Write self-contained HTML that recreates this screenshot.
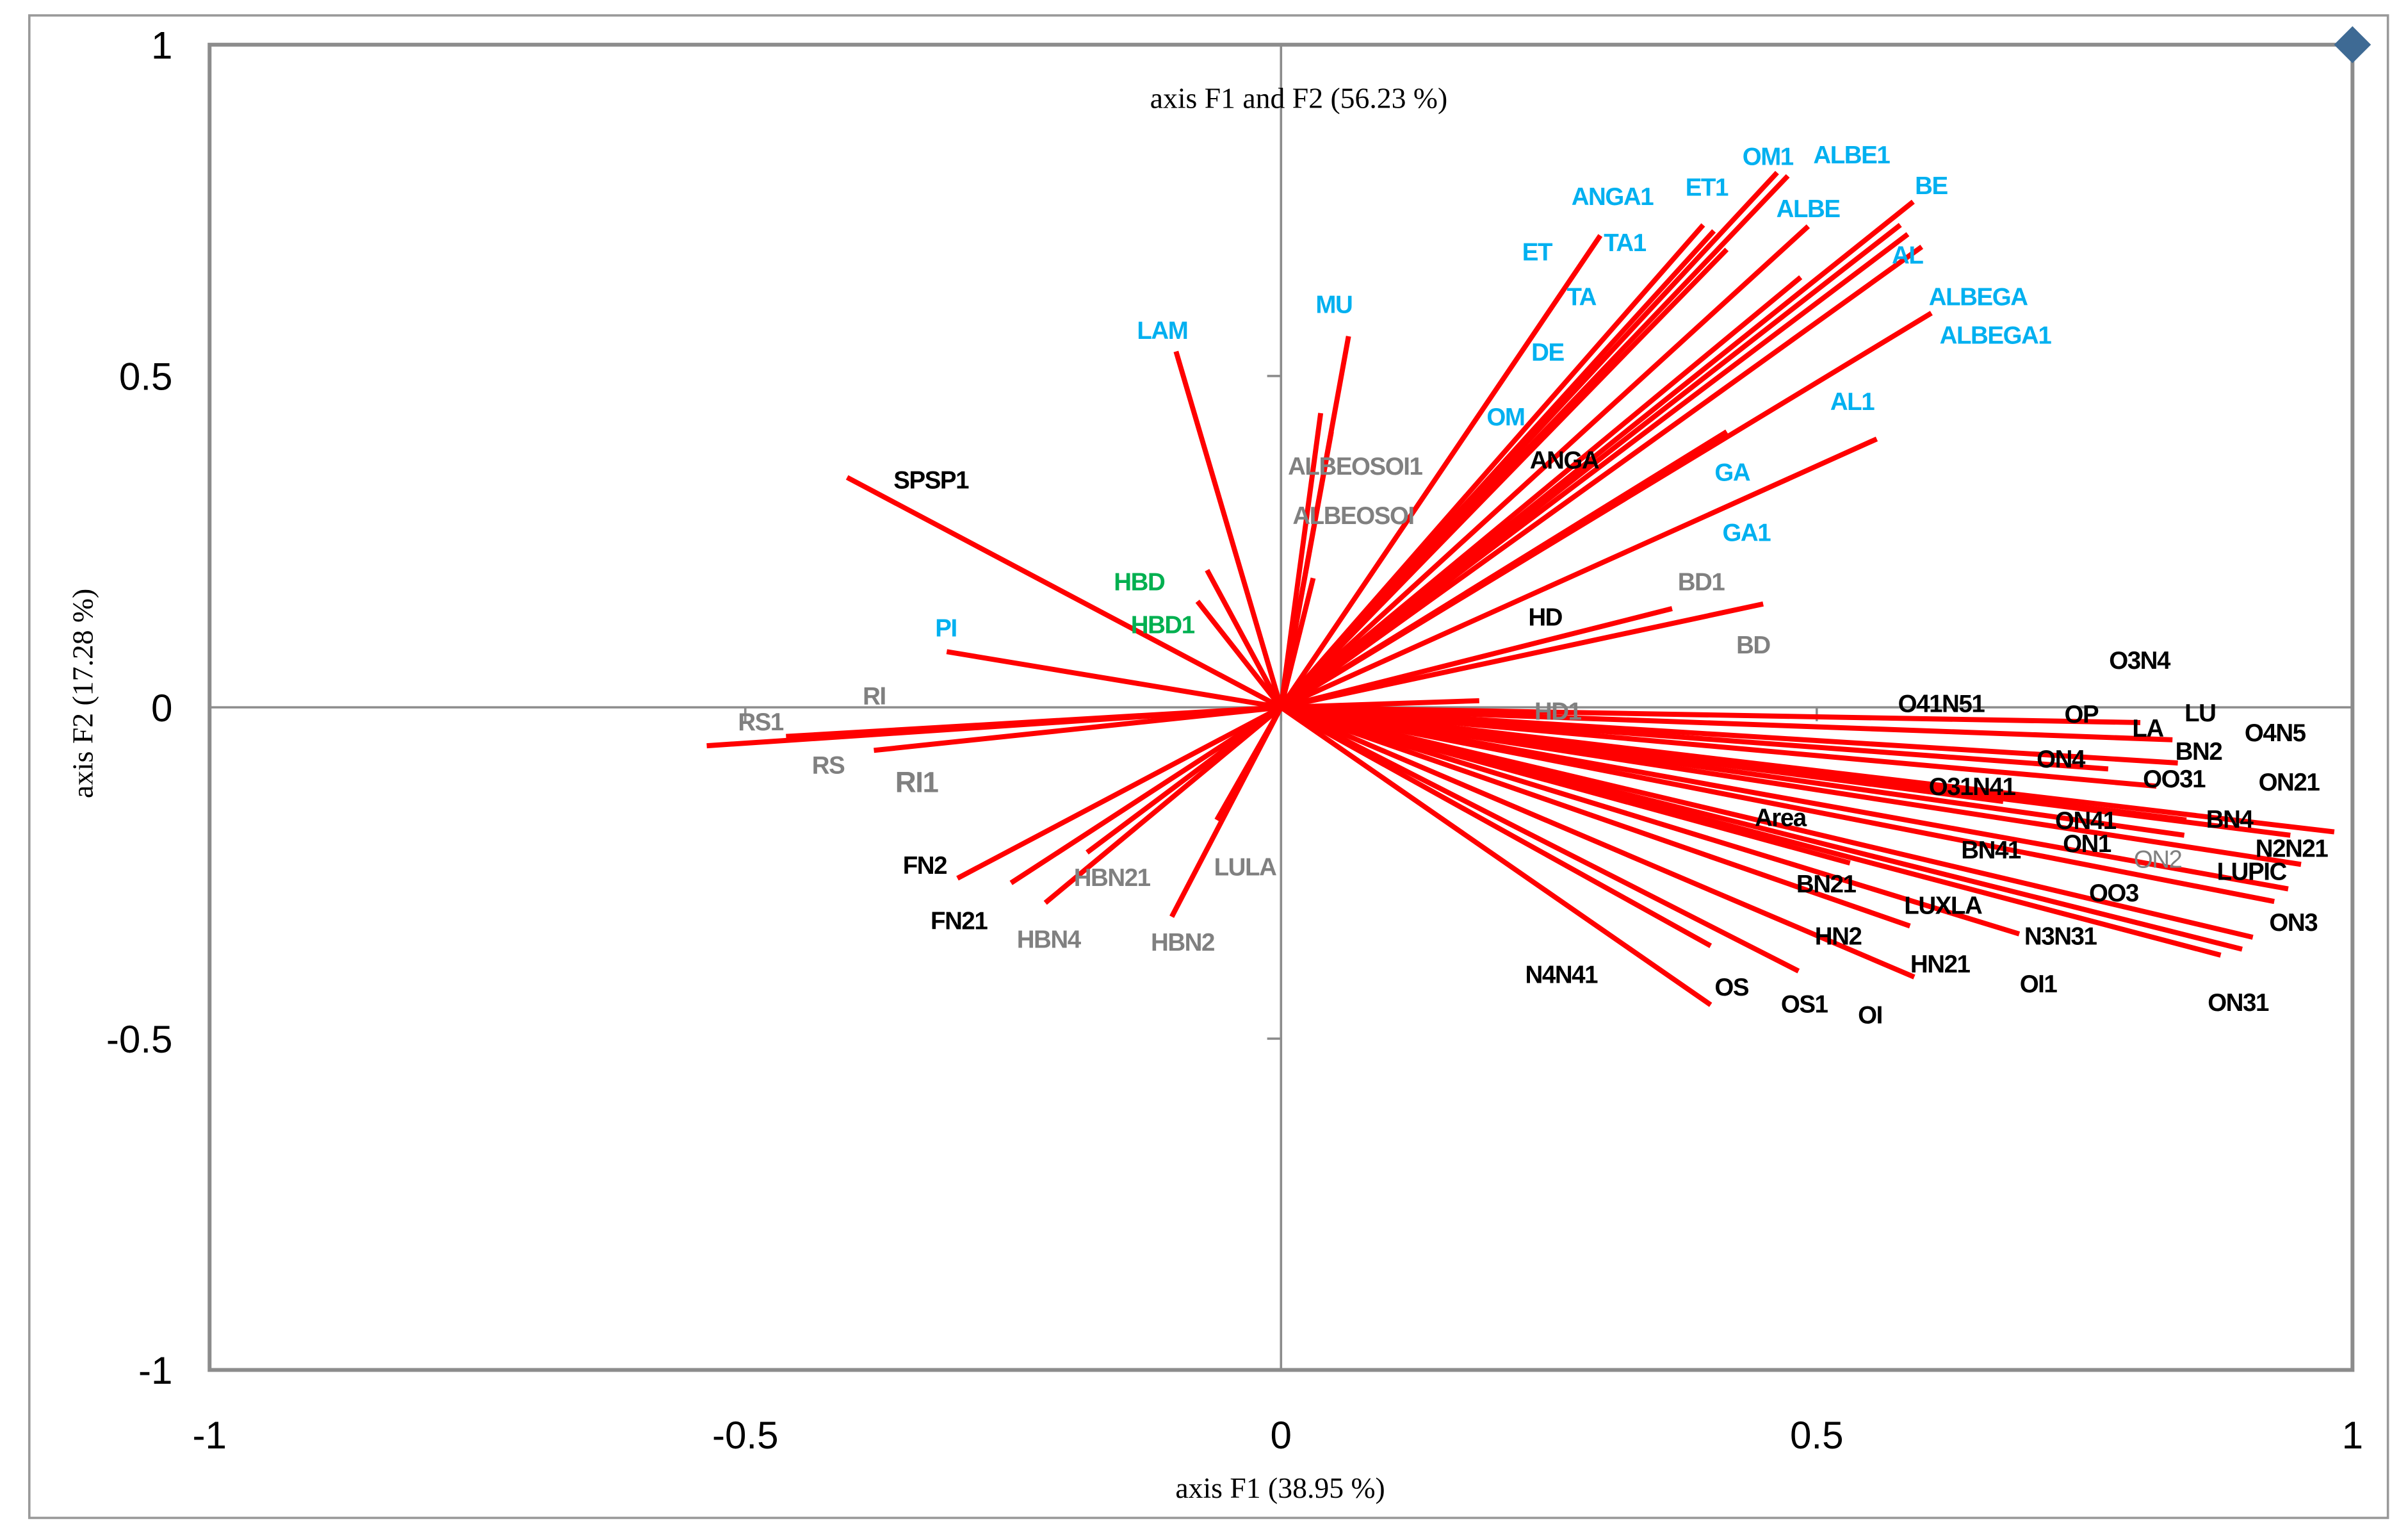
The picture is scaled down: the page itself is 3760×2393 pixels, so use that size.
<!DOCTYPE html>
<html><head><meta charset="utf-8"><style>
html,body{margin:0;padding:0;background:#fff;}
svg{display:block;}
.lb{font-family:"Liberation Sans Narrow","Liberation Sans",sans-serif;font-weight:bold;font-size:16px;letter-spacing:-0.6px;}
.bl{fill:#00B0F0}.bk{fill:#000}.gy{fill:#808080}.gr{fill:#00B050}
.tk{font-family:"Liberation Sans Narrow","Liberation Sans",sans-serif;font-size:25px;fill:#000}
.ser{font-family:"Liberation Serif",serif;font-size:19px;fill:#000}
</style></head><body>
<svg id="chart" width="3760" height="2393" viewBox="0 0 1563 994.8" xmlns="http://www.w3.org/2000/svg">
<rect x="19" y="10" width="1531" height="975" fill="#fff" stroke="#999" stroke-width="1.5"/>
<rect x="136" y="29" width="1391" height="860" fill="none" stroke="#8c8c8c" stroke-width="2.5"/>
<g id="axes"></g>
<g id="vectors"></g>
<path d="M1527,17 L1539,29 L1527,41 L1515,29 Z" fill="#3E6A94"/>
<text class="ser" x="843" y="70" text-anchor="middle">axis F1 and F2 (56.23 %)</text>
<text class="ser" x="831" y="972" text-anchor="middle">axis F1 (38.95 %)</text>
<text class="ser" transform="translate(60,450) rotate(-90)" text-anchor="middle">axis F2 (17.28 %)</text>
<g>
<text class="lb bl" x="1131" y="107">OM1</text><text class="lb bl" x="1177" y="106">ALBE1</text>
<text class="lb bl" x="1020" y="133">ANGA1</text><text class="lb bl" x="1094" y="127">ET1</text>
<text class="lb bl" x="1243" y="126">BE</text><text class="lb bl" x="1153" y="141">ALBE</text>
<text class="lb bl" x="988" y="169">ET</text><text class="lb bl" x="1041" y="163">TA1</text>
<text class="lb bl" x="1228" y="171">AL</text><text class="lb bl" x="1017" y="198">TA</text>
<text class="lb bl" x="1252" y="198">ALBEGA</text><text class="lb bl" x="1259" y="223">ALBEGA1</text>
<text class="lb bl" x="854" y="203">MU</text><text class="lb bl" x="738" y="220">LAM</text>
<text class="lb bl" x="994" y="234">DE</text><text class="lb bl" x="1188" y="266">AL1</text>
<text class="lb bl" x="965" y="276">OM</text><text class="lb bk" x="993" y="304">ANGA</text>
<text class="lb bl" x="1113" y="312">GA</text><text class="lb bl" x="1118" y="351">GA1</text>
<text class="lb gy" x="836" y="308">ALBEOSOI1</text><text class="lb gy" x="839" y="340">ALBEOSOI</text>
<text class="lb bk" x="580" y="317">SPSP1</text>
<text class="lb gr" x="723" y="383">HBD</text><text class="lb gr" x="734" y="411">HBD1</text>
<text class="lb bl" x="607" y="413">PI</text>
<text class="lb gy" x="1089" y="383">BD1</text><text class="lb bk" x="992" y="406">HD</text>
<text class="lb gy" x="1127" y="424">BD</text><text class="lb bk" x="1369" y="434">O3N4</text>
<text class="lb gy" x="560" y="457">RI</text><text class="lb gy" x="479" y="474">RS1</text>
<text class="lb gy" x="996" y="467">HD1</text><text class="lb bk" x="1232" y="462">O41N51</text>
<text class="lb bk" x="1340" y="469">OP</text><text class="lb bk" x="1418" y="468">LU</text>
<text class="lb bk" x="1384" y="478">LA</text><text class="lb bk" x="1457" y="481">O4N5</text>
<text class="lb bk" x="1412" y="493">BN2</text><text class="lb bk" x="1322" y="498">ON4</text>
<text class="lb gy" x="527" y="502">RS</text><text class="lb gy" x="581" y="514" style="font-size:19px">RI1</text>
<text class="lb bk" x="1391" y="511">OO31</text><text class="lb bk" x="1466" y="513">ON21</text>
<text class="lb bk" x="1252" y="516">O31N41</text>
<text class="lb bk" x="1139" y="536">Area</text><text class="lb bk" x="1334" y="538">ON41</text>
<text class="lb bk" x="1432" y="537">BN4</text><text class="lb bk" x="1339" y="553">ON1</text>
<text class="lb bk" x="1464" y="556">N2N21</text><text class="lb bk" x="1273" y="557">BN41</text>
<text class="lb gy" x="1385" y="563" style="font-weight:normal">ON2</text>
<text class="lb bk" x="1439" y="571">LUPIC</text>
<text class="lb bk" x="586" y="567">FN2</text><text class="lb gy" x="788" y="568">LULA</text>
<text class="lb gy" x="697" y="575">HBN21</text><text class="lb bk" x="1166" y="579">BN21</text>
<text class="lb bk" x="1356" y="585">OO3</text><text class="lb bk" x="1236" y="593">LUXLA</text>
<text class="lb bk" x="1473" y="604">ON3</text><text class="lb bk" x="604" y="603">FN21</text>
<text class="lb gy" x="660" y="615">HBN4</text><text class="lb gy" x="747" y="617">HBN2</text>
<text class="lb bk" x="1178" y="613">HN2</text><text class="lb bk" x="1314" y="613">N3N31</text>
<text class="lb bk" x="1240" y="631">HN21</text><text class="lb bk" x="990" y="638">N4N41</text>
<text class="lb bk" x="1311" y="644">OI1</text><text class="lb bk" x="1113" y="646">OS</text>
<text class="lb bk" x="1156" y="657">OS1</text><text class="lb bk" x="1433" y="656">ON31</text>
<text class="lb bk" x="1206" y="664">OI</text>
</g>
</svg>
<script>
const varNames = ["ET","TA1","ANGA1","TA","OM1","ALBE1","ALBE","BE","AL","ALBEGA_a","ALBEGA_b","ALBEGA","DE","GA","GA1","BD1","BD","HD1","MU","ALBEOSOI1","ALBEOSOI1b","ALBEOSOI","LAM","HBD","HBD1","SPSP1","PI","RS1","RS","RI1","FN2","FN21","HBN4","HBN21","HBN2","LULA","OS","N4N41","OS1","OI","HN2","N3N31","ON31","OI1","ON3a","ON3","LUPIC","OO3","N2N21","BN4","ON41","OO31","ON4","BN2","LU","LA","ON21","ON2","BN21"];
const f1 = [0.298,0.394,0.404,0.416,0.463,0.473,0.492,0.590,0.578,0.585,0.598,0.607,0.485,0.416,0.556,0.365,0.450,0.185,0.063,0.037,0.047,0.030,-0.098,-0.069,-0.078,-0.405,-0.312,-0.536,-0.462,-0.380,-0.302,-0.252,-0.220,-0.181,-0.102,-0.060,0.401,0.401,0.483,0.591,0.587,0.689,0.877,0.897,0.907,0.927,0.940,0.952,0.942,0.845,0.843,0.817,0.772,0.837,0.832,0.802,0.983,0.674,0.531];
const f2 = [0.712,0.728,0.719,0.691,0.807,0.802,0.726,0.763,0.728,0.714,0.695,0.595,0.649,0.416,0.405,0.149,0.156,0.010,0.560,0.444,0.416,0.195,0.537,0.207,0.160,0.347,0.084,-0.058,-0.044,-0.065,-0.258,-0.265,-0.295,-0.219,-0.316,-0.170,-0.449,-0.360,-0.398,-0.407,-0.330,-0.342,-0.374,-0.365,-0.347,-0.293,-0.274,-0.237,-0.193,-0.170,-0.193,-0.119,-0.093,-0.084,-0.049,-0.023,-0.188,-0.142,-0.235];
const tickVals = [-1,-0.5,0,0.5,1];
const tickLabels = ["-1","-0.5","0","0.5","1"];
const NS="http://www.w3.org/2000/svg";
const X0=136,X1=1527,Y0=889,Y1=29;
const sx=v=>X0+(v+1)/2*(X1-X0);
const sy=v=>Y0-(v+1)/2*(Y0-Y1);
function mk(t,a,parent){const e=document.createElementNS(NS,t);for(const k in a)e.setAttribute(k,a[k]);parent.appendChild(e);return e;}
const ax=document.getElementById('axes');
let l=mk('line',{x1:X0,x2:X1,y1:sy(0),y2:sy(0),stroke:'#8c8c8c','stroke-width':1.5},ax);


l=mk('line',{x1:sx(0),x2:sx(0),y1:Y1,y2:Y0,stroke:'#8c8c8c','stroke-width':1.5},ax);


tickVals.forEach((v,i)=>{
  let t=mk('line',{x1:sx(0)-9,x2:sx(0),y1:sy(v),y2:sy(v),stroke:'#8c8c8c','stroke-width':1.5},ax);
  
  
  t=mk('line',{x1:sx(v),x2:sx(v),y1:sy(0),y2:sy(0)+9,stroke:'#8c8c8c','stroke-width':1.5},ax);
  
  
  let tx=mk('text',{x:112,y:sy(v)+9,'text-anchor':'end','class':'tk'},ax);
  tx.textContent=tickLabels[i];
  
  
  tx=mk('text',{x:sx(v),y:940,'text-anchor':'middle','class':'tk'},ax);
  tx.textContent=tickLabels[i];
  
  
});
const vg=document.getElementById('vectors');
varNames.forEach((n,i)=>{
  const ln=mk('line',{x1:sx(0),y1:sy(0),x2:sx(f1[i]),y2:sy(f2[i]),stroke:'#FF0000','stroke-width':3.3},vg);
  
  
});
</script>
</body></html>
